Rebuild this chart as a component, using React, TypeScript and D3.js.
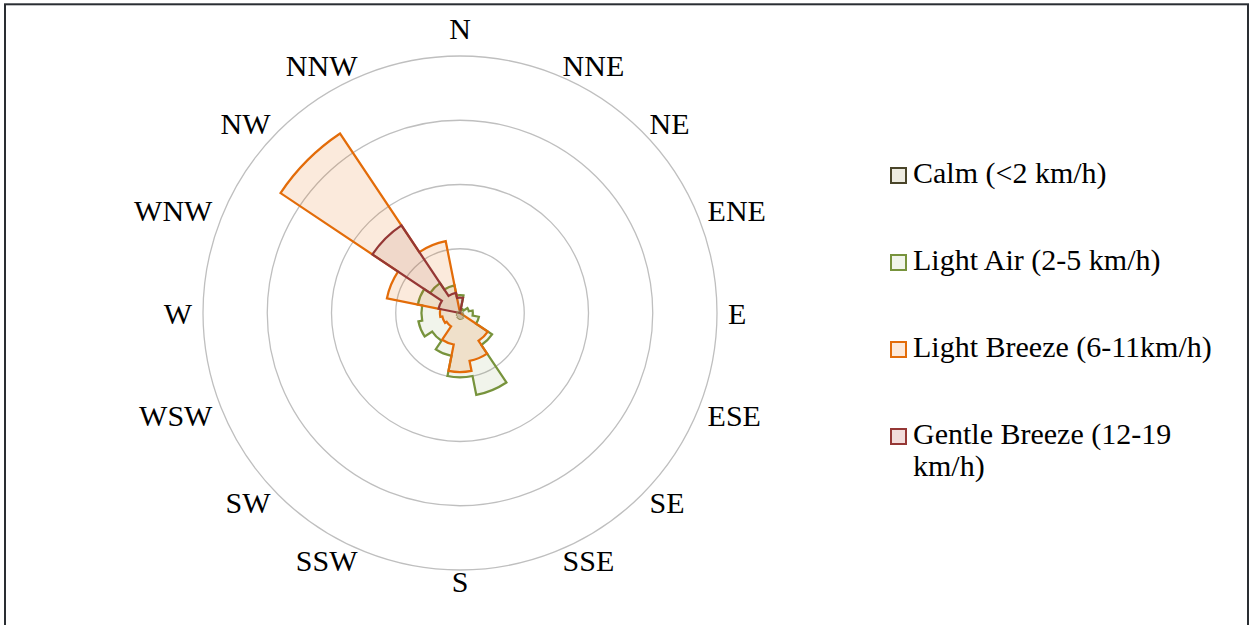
import React from "react";
import * as d3 from "d3";

// wind directions, clockwise from north
const directions = ["N", "NNE", "NE", "ENE", "E", "ESE", "SE", "SSE", "S", "SSW", "SW", "WSW", "W", "WNW", "NW", "NNW"];

// frequency per direction (same order as directions)
const calm = [0.15, 0.15, 0.15, 0.2, 0.25, 0.3, 0.4, 0.5, 0.5, 0.45, 0.35, 0.3, 0.25, 0.2, 0.2, 0.15];
const lightAir = [1.4, 0.3, 0.35, 0.7, 1.0, 1.5, 3.0, 6.5, 5.0, 3.4, 2.6, 3.3, 3.0, 3.35, 2.8, 2.2];
const lightBreeze = [0.3, 0, 0, 0, 0, 0, 2.6, 3.8, 4.6, 2.5, 1.25, 1.4, 1.56, 5.8, 16.8, 5.7];
const gentleBreeze = [1.2, 0, 0, 0, 0, 0, 0, 0, 0, 0, 0, 0, 0, 1.7, 8.2, 1.6];

const ringTicks = [5, 10, 15, 20];

const seriesNames = ["Calm (<2 km/h)", "Light Air (2-5 km/h)", "Light Breeze (6-11km/h)", "Gentle Breeze (12-19 km/h)"];

const series = [
  { name: seriesNames[0], values: calm, stroke: "#948a54", fill: "#7f7350", fillOpacity: 0.35, width: 1, legendStroke: "#4a452a", legendFill: "#eeece1" },
  { name: seriesNames[1], values: lightAir, stroke: "#77933c", fill: "#77933c", fillOpacity: 0.1, width: 2.25, legendStroke: "#77933c", legendFill: "#f1f5ea" },
  { name: seriesNames[2], values: lightBreeze, stroke: "#e36c09", fill: "#e36c09", fillOpacity: 0.14, width: 2.25, legendStroke: "#e36c09", legendFill: "#fde9d9" },
  { name: seriesNames[3], values: gentleBreeze, stroke: "#953735", fill: "#953735", fillOpacity: 0.1, width: 2.25, legendStroke: "#953735", legendFill: "#f2dcdb" },
];

const W = 1250;
const H = 625;
const cx = 460;
const cy = 313;
const outerR = 257;
const font = "Liberation Serif";
const fontSize = 30;

export default function App() {
  const r = d3.scaleLinear().domain([0, 20]).range([0, outerR]);
  const angle = d3.scaleLinear().domain([0, directions.length]).range([0, 2 * Math.PI]);

  // each direction is a sector of constant radius; joined radially to the next one
  const rosePath = (values: number[]) => {
    const p = d3.path();
    values.forEach((v, i) => {
      const a0 = angle(i - 0.5) - Math.PI / 2;
      const a1 = angle(i + 0.5) - Math.PI / 2;
      p.arc(0, 0, r(v), a0, a1, false);
    });
    p.closePath();
    return p.toString();
  };

  // draw order: light air behind, calm on top
  const drawOrder = [1, 2, 3, 0];

  return (
    <svg width={W} height={H} style={{ position: "absolute", left: 0, top: 0, background: "#fff" }}>
      <rect x={5} y={4.3} width={1243} height={660} fill="#fff" stroke="#2a2e33" strokeWidth={2} />
      <g transform={`translate(${cx},${cy})`}>
        {ringTicks.map((t) => (
          <circle key={t} r={r(t)} fill="none" stroke="#bfbfbf" strokeWidth={1.3} />
        ))}
        {drawOrder.map((k) => {
          const s = series[k];
          return (
            <path
              key={s.name}
              d={rosePath(s.values)}
              fill={s.fill}
              fillOpacity={s.fillOpacity}
              stroke={s.stroke}
              strokeWidth={s.width}
            />
          );
        })}
        {directions.map((d, i) => {
          const a = angle(i);
          const sin = Math.sin(a);
          const cos = Math.cos(a);
          const anchor = sin > 0.05 ? "start" : sin < -0.05 ? "end" : "middle";
          // Excel pushes the top label a bit further out
          const lr = cos > 0.99 ? 285 : 268;
          return (
            <text
              key={d}
              x={sin * 268}
              y={-cos * lr}
              textAnchor={anchor}
              dominantBaseline="central"
              fontFamily={font}
              fontSize={fontSize}
              fill="#000"
            >
              {d}
            </text>
          );
        })}
      </g>
      {series.map((s, i) => {
        const base = 183 + i * 87;
        const words = s.name === seriesNames[3] ? ["Gentle Breeze (12-19", "km/h)"] : [s.name];
        return (
          <g key={s.name}>
            <rect x={891} y={base - 15} width={15} height={15} fill={s.legendFill} stroke={s.legendStroke} strokeWidth={2} />
            <text x={913} y={base} fontFamily={font} fontSize={fontSize} fill="#000">
              {words.map((w, j) => (
                <tspan key={j} x={913} dy={j === 0 ? 0 : 32}>
                  {w}
                </tspan>
              ))}
            </text>
          </g>
        );
      })}
    </svg>
  );
}
